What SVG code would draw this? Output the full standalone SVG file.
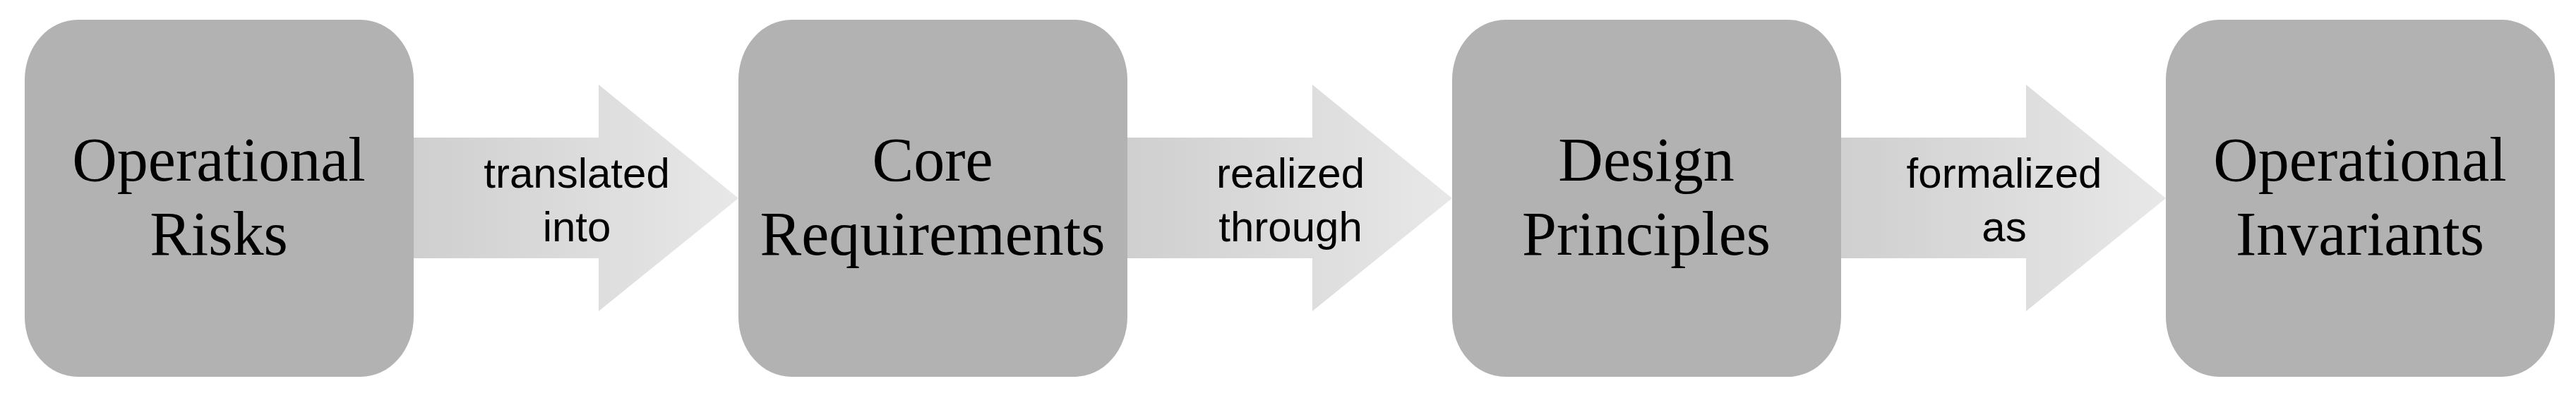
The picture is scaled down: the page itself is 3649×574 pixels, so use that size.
<svg xmlns="http://www.w3.org/2000/svg" width="3649" height="574" viewBox="0 0 3649 574">
<style>
.box{fill:#b2b2b2}
.arr{fill:url(#g)}
.nt{font-family:"Liberation Serif",serif;font-size:88px;fill:#000;text-anchor:middle}
.lt{font-family:"Liberation Sans",sans-serif;font-size:60px;fill:#000;text-anchor:middle}
</style>
<defs>
<linearGradient id="g" x1="0" x2="1" y1="0" y2="0"><stop offset="0" stop-color="#cfcfcf"/><stop offset="1" stop-color="#e8e8e8"/></linearGradient>
</defs>
<rect width="3649" height="574" fill="#fff"/>
<g id="connectors">
<g id="a1"><path class="arr" d="M586 195H848V120L1046 281L848 441V366H586Z"/><text class="lt" x="817" y="266">translated</text><text class="lt" x="817" y="342">into</text></g>
<g id="a2"><path class="arr" d="M1597 195H1859V120L2057 281L1859 441V366H1597Z"/><text class="lt" x="1828" y="266">realized</text><text class="lt" x="1828" y="342">through</text></g>
<g id="a3"><path class="arr" d="M2608 195H2870V120L3068 281L2870 441V366H2608Z"/><text class="lt" x="2839" y="266">formalized</text><text class="lt" x="2839" y="342">as</text></g>
</g>
<g id="n1"><rect class="box" x="35" y="28" width="551" height="506" rx="75" ry="85"/><text class="nt" x="310" y="256">Operational</text><text class="nt" x="310" y="361">Risks</text></g>
<g id="n2"><rect class="box" x="1046" y="28" width="551" height="506" rx="75" ry="85"/><text class="nt" x="1321" y="256">Core</text><text class="nt" x="1321" y="361">Requirements</text></g>
<g id="n3"><rect class="box" x="2057" y="28" width="551" height="506" rx="75" ry="85"/><text class="nt" x="2332" y="256">Design</text><text class="nt" x="2332" y="361">Principles</text></g>
<g id="n4"><rect class="box" x="3068" y="28" width="551" height="506" rx="75" ry="85"/><text class="nt" x="3343" y="256">Operational</text><text class="nt" x="3343" y="361">Invariants</text></g>
</svg>
